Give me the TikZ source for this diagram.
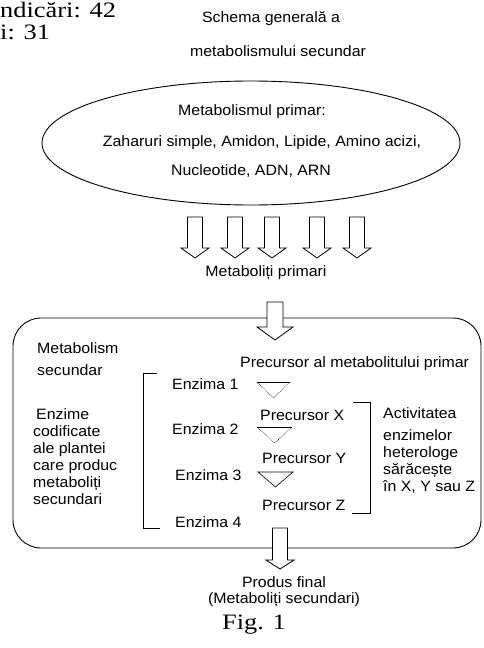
\documentclass[tikz,border=0pt]{standalone}
\usepackage{fontspec}
\setmainfont{Liberation Sans}[FakeStretch=1.06]
\newfontfamily\figfont{Liberation Serif}[FakeStretch=1.2]
\usetikzlibrary{shapes.geometric}

\tikzset{
  lbl/.style={font=\fontsize{15}{17}\selectfont, inner sep=0pt},
  serif/.style={font=\figfont\fontsize{22}{22}\selectfont, inner sep=0pt},
  fatarrow/.style={draw, line width=0.8pt, fill=white, line join=miter},
  tri/.style={line width=0.6pt},
  pics/hollowarrow/.style n args={4}{code={
    \draw[fatarrow] (-#3,0) -- (-#3,#1) -- (-#4,#1) -- (0,#2)
      -- (#4,#1) -- (#3,#1) -- (#3,0) -- cycle;
  }},
}

\begin{document}
\begin{tikzpicture}[x=1pt, y=-1pt]
  \useasboundingbox (0,0) rectangle (484,648);

  % cropped page header
  \node[serif, anchor=west] (hdr1) at (0,10) {ndicări: 42};
  \node[serif, anchor=west] (hdr2) at (0,32) {i: 31};

  % title
  \node[lbl] (ttl1) at (271,19) {Schema generală a};
  \node[lbl] (ttl2) at (278,51) {metabolismului secundar};

  % primary metabolism
  \node[ellipse, draw, line width=0.9pt, minimum width=418pt, minimum height=124pt] (prim) at (251,143) {};
  \node[lbl] (prim1) at (252,112) {Metabolismul primar:};
  \node[lbl] (prim2) at (262,143) {Zaharuri simple, Amidon, Lipide, Amino acizi,};
  \node[lbl] (prim3) at (251,171) {Nucleotide, ADN, ARN};

  \foreach \x in {195,235,272,317,357}
    \pic at (\x,217) {hollowarrow={31}{41}{7.5}{14}};
  \node[lbl] (metprim) at (266,273) {Metaboliți primari};

  % secondary metabolism
  \node[draw, line width=0.9pt, rounded corners=28pt, minimum width=468pt, minimum height=230pt] (secbox) at (247,433) {};
  \pic at (275,302) {hollowarrow={25}{38}{8}{18}};

  \node[lbl, anchor=west] (sec1) at (37,348) {Metabolism};
  \node[lbl, anchor=west] (sec2) at (37,370) {secundar};
  \node[lbl, anchor=west, align=left] (plant) at (33,457)
    {\hspace{3pt}Enzime\\codificate\\ale plantei\\care produc\\metaboliți\\secundari};

  \draw[line width=0.7pt] (157,373) -- (143,373) -- (143,528) -- (160,528);
  \node[lbl, anchor=west] (enz1) at (172,384) {Enzima 1};
  \node[lbl, anchor=west] (enz2) at (172,429) {Enzima 2};
  \node[lbl, anchor=west] (enz3) at (175,475) {Enzima 3};
  \node[lbl, anchor=west] (enz4) at (175,522) {Enzima 4};

  \node[lbl, anchor=west] (pre0) at (240,364) {Precursor al metabolitului primar};
  \node[lbl, anchor=west] (preX) at (260,415) {Precursor X};
  \node[lbl, anchor=west] (preY) at (262,458) {Precursor Y};
  \node[lbl, anchor=west] (preZ) at (262,505) {Precursor Z};

  % enzyme steps
  \draw[tri] (257,382) -- (290,382);
  \draw[tri, densely dotted] (257,382) -- (273.5,398) -- (290,382);
  \draw[tri] (257,427) -- (292,427);
  \draw[tri, densely dotted] (257,427) -- (274.5,443) -- (292,427);
  \draw[tri] (258,472) -- (275.5,487) -- (293,472) -- cycle;

  \draw[line width=0.7pt] (353,402) -- (370,402) -- (370,513) -- (352,513);
  \node[lbl, anchor=west, align=left] (hetero) at (383,451)
    {Activitatea\\[5pt]\baselineskip=15.5pt enzimelor\\heterologe\\sărăcește\\în X, Y sau Z};

  % final product
  \pic at (280,528) {hollowarrow={32}{41}{7.5}{14}};
  \node[lbl, align=center, font=\fontsize{15}{16}\selectfont] (final) at (284,592)
    {Produs final\\(Metaboliți secundari)};

  \node[serif] (fig) at (254,625) {Fig. 1};
\end{tikzpicture}
\end{document}
